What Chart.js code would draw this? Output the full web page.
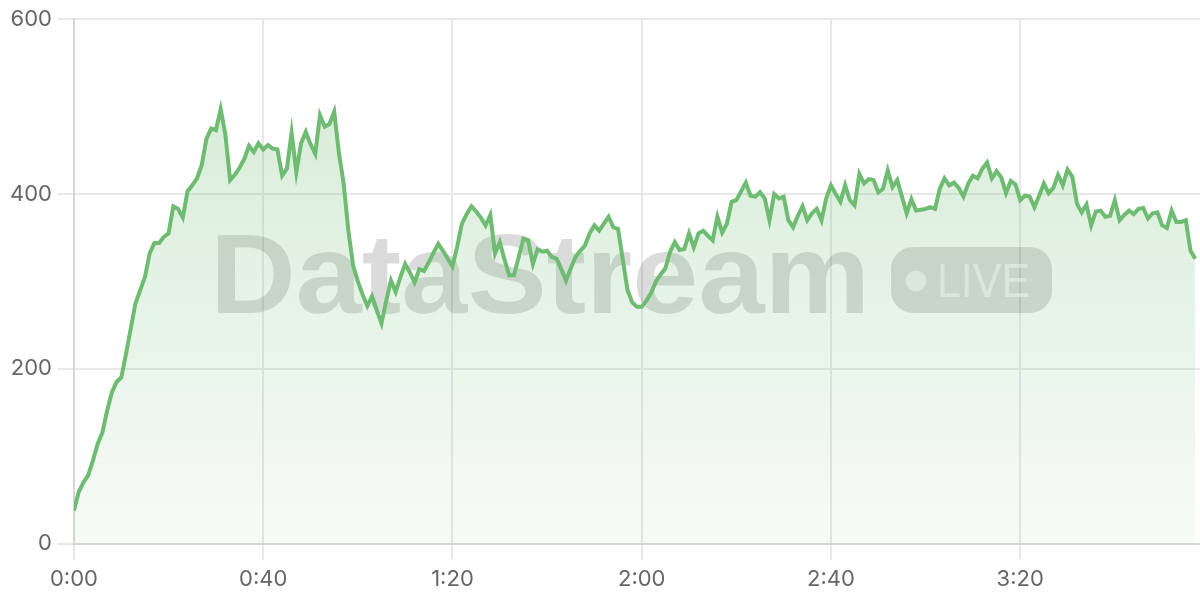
<!DOCTYPE html>
<html>
<head>
<meta charset="utf-8">
<title>DataStream live viewers</title>
<script src="https://cdn.jsdelivr.net/npm/chart.js@4/dist/chart.umd.min.js"></script>
<style>
  html, body { margin: 0; padding: 0; background: #fff; }
  #wrap { width: 1200px; height: 600px; position: relative; }
</style>
</head>
<body>
<div id="wrap"><canvas id="streamChart"></canvas></div>
<script>
// one reading per second, 0:00 .. 3:57
let viewerCount = [
  38, 59, 70, 78, 95, 114, 127, 152, 173, 185,
  190, 217, 246, 275, 290, 305, 332, 344, 344, 351,
  355, 386, 383, 373, 403, 410, 418, 433, 463, 475,
  473, 497, 468, 416, 422, 430, 440, 455, 448, 458,
  451, 456, 452, 451, 421, 429, 470, 425, 458, 471,
  457, 446, 490, 477, 480, 494, 447, 412, 358, 318,
  300, 285, 272, 283, 267, 252, 278, 301, 288, 305,
  320, 310, 299, 314, 312, 322, 333, 343, 335, 326,
  317, 340, 366, 377, 386, 380, 373, 364, 376, 332,
  345, 325, 307, 307, 328, 349, 347, 320, 337, 334,
  335, 328, 326, 314, 301, 315, 328, 335, 341, 355,
  364, 358, 366, 374, 362, 360, 325, 290, 276, 271,
  271, 278, 287, 300, 308, 315, 334, 345, 336, 337,
  355, 339, 355, 358, 352, 347, 374, 356, 366, 391,
  393, 403, 413, 398, 397, 402, 395, 370, 400, 395,
  397, 370, 362, 375, 386, 370, 378, 383, 370, 395,
  410, 400, 391, 410, 393, 387, 423, 412, 417, 416,
  402, 406, 427, 408, 416, 397, 378, 394, 381, 382,
  383, 385, 383, 406, 418, 410, 413, 407, 397, 412,
  421, 418, 429, 436, 418, 426, 419, 401, 415, 411,
  393, 398, 397, 385, 398, 412, 401, 407, 422, 410,
  428, 420, 389, 379, 388, 364, 380, 381, 374, 375,
  393, 370, 376, 381, 377, 383, 384, 372, 378, 379,
  364, 361, 381, 368, 368, 370, 335, 326
];

let xTickSeconds = [0, 40, 80, 120, 160, 200];
let xTickLabels = ['0:00', '0:40', '1:20', '2:00', '2:40', '3:20'];
let yTicks = [0, 200, 400, 600];

let lineGreen = 'rgb(110, 188, 114)';

// big grey "DataStream  (o LIVE)" mark behind the line
let watermark = {
  id: 'watermark',
  beforeDatasetsDraw(chart) {
    let ctx = chart.ctx;
    ctx.save();
    ctx.fillStyle = 'rgba(0, 0, 0, 0.14)';
    ctx.textBaseline = 'alphabetic';
    ctx.textAlign = 'left';
    ctx.font = 'bold 114px "Liberation Sans", Arial, sans-serif';
    let w = ctx.measureText('DataStream').width;
    ctx.save();
    ctx.translate(210, 313);
    ctx.scale(660 / w, 1);
    ctx.fillText('DataStream', 0, 0);
    ctx.restore();

    // pill
    ctx.beginPath();
    ctx.roundRect(891, 247, 161, 66, 22);
    ctx.fill();

    ctx.fillStyle = 'rgba(255, 255, 255, 0.6)';
    ctx.beginPath();
    ctx.arc(916, 281, 10.5, 0, Math.PI * 2);
    ctx.fill();
    ctx.font = '500 48px "Liberation Sans", Arial, sans-serif';
    let lw = ctx.measureText('LIVE').width;
    ctx.save();
    ctx.translate(937, 297);
    ctx.scale(93 / lw, 1);
    ctx.fillText('LIVE', 0, 0);
    ctx.restore();
    ctx.restore();
  }
};

function areaFill(context) {
  let area = context.chart.chartArea;
  if (!area) return 'rgba(110, 188, 114, 0.15)';
  let g = context.chart.ctx.createLinearGradient(0, area.top, 0, area.bottom);
  g.addColorStop(0, 'rgba(110, 188, 114, 0.31)');
  g.addColorStop(1, 'rgba(110, 188, 114, 0.06)');
  return g;
}

function renderChart() {
  let ctx = document.getElementById('streamChart').getContext('2d');
  let points = viewerCount.map((v, i) => ({ x: i, y: v }));

  new Chart(ctx, {
    type: 'line',
    data: {
      datasets: [{
        label: 'Viewers',
        data: points,
        borderColor: lineGreen,
        borderWidth: 4,
        backgroundColor: areaFill,
        fill: 'origin',
        pointRadius: 0,
        tension: 0
      }]
    },
    plugins: [watermark],
    options: {
      responsive: true,
      maintainAspectRatio: false,
      animation: false,
      layout: { padding: { top: 7, right: 0, bottom: 0, left: 4 } },
      plugins: {
        legend: { display: false },
        tooltip: { enabled: false }
      },
      scales: {
        x: {
          type: 'linear',
          min: 0,
          max: 238,
          afterBuildTicks: scale => {
            scale.ticks = xTickSeconds.map(v => ({ value: v }));
          },
          ticks: {
            color: '#666',
            font: { family: 'Inter, "Noto Sans", sans-serif', size: 22 },
            padding: 7,
            maxRotation: 0,
            callback: v => xTickLabels[xTickSeconds.indexOf(v)]
          },
          grid: { color: '#e8e8e8', lineWidth: 2, tickLength: 16 },
          border: { color: '#d6d6d6', width: 2 }
        },
        y: {
          min: 0,
          max: 600,
          afterBuildTicks: scale => {
            scale.ticks = yTicks.map(v => ({ value: v }));
          },
          ticks: {
            color: '#666',
            font: { family: 'Inter, "Noto Sans", sans-serif', size: 22 },
            padding: 6
          },
          grid: { color: '#e8e8e8', lineWidth: 2, tickLength: 16 },
          border: { color: '#d6d6d6', width: 2 }
        }
      }
    }
  });
}

renderChart();
</script>
</body>
</html>
